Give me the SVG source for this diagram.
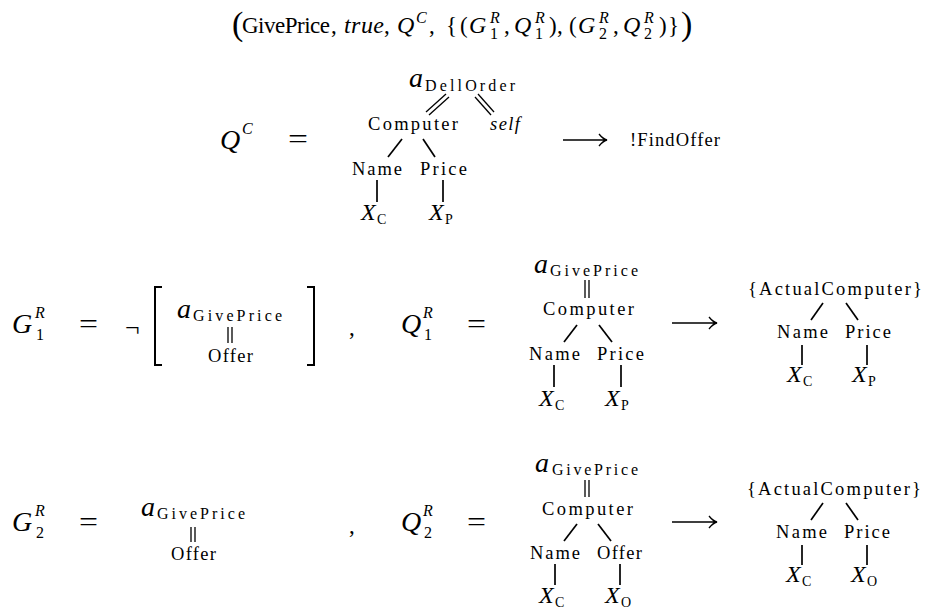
<svg xmlns="http://www.w3.org/2000/svg" width="925" height="609" viewBox="0 0 925 609">
<style>
text{font-family:"Liberation Serif","DejaVu Serif",serif;fill:#000}
.it{font-style:italic}
.m{font-size:28px}
.t{font-size:23px}
.ti{font-size:24px;font-style:italic}
.l{font-size:18.5px}
.s{font-size:14px}
.sb{font-size:16px}
.sm{font-size:16px}
.big{font-size:34px}
.x{font-size:24px;font-style:italic}
.c line,.c path{stroke:#000;stroke-width:1.7;fill:none}
.c .d{stroke-width:1.3}
.c .ar{stroke-width:1.3}
</style>
<rect width="925" height="609" fill="#fff"/>
<g id="title">
<text x="232" y="35" class="big">(</text>
<text x="242" y="33" class="t" textLength="88" lengthAdjust="spacing">GivePrice</text>
<text x="331" y="33" class="t">,</text>
<text x="344" y="33" class="ti" textLength="40" lengthAdjust="spacing">true</text>
<text x="384" y="33" class="t">,</text>
<text x="397" y="33" class="ti">Q</text>
<text x="416" y="23" class="sm it">C</text>
<text x="429" y="33" class="t">,</text>
<text x="446" y="33" class="t">{</text>
<text x="460" y="33" class="t">(</text>
<text x="469" y="33" class="ti">G</text>
<text x="490" y="23" class="sm it">R</text>
<text x="490" y="39" class="sm">1</text>
<text x="504" y="33" class="t">,</text>
<text x="514" y="33" class="ti">Q</text>
<text x="535" y="23" class="sm it">R</text>
<text x="535" y="39" class="sm">1</text>
<text x="549" y="33" class="t">)</text>
<text x="557" y="33" class="t">,</text>
<text x="569" y="33" class="t">(</text>
<text x="578" y="33" class="ti">G</text>
<text x="599" y="23" class="sm it">R</text>
<text x="599" y="39" class="sm">2</text>
<text x="613" y="33" class="t">,</text>
<text x="623" y="33" class="ti">Q</text>
<text x="644" y="23" class="sm it">R</text>
<text x="644" y="39" class="sm">2</text>
<text x="659" y="33" class="t">)</text>
<text x="668" y="33" class="t">}</text>
<text x="681" y="35" class="big">)</text>
</g>

<g id="row1">
<g id="qc-label"><text x="220" y="149" class="m it">Q</text><text x="242" y="134" class="sm it">C</text></g>
<g id="qc-eq"><text x="288" y="148" class="m" textLength="20" lengthAdjust="spacingAndGlyphs">=</text></g>
<g id="r1-a"><text x="409" y="87" class="m it">a</text><text x="425" y="91" class="sb" textLength="90" lengthAdjust="spacing">DellOrder</text></g>
<g id="r1-computer"><text x="368" y="130" class="l" textLength="90" lengthAdjust="spacing">Computer</text></g>
<g id="r1-self"><text x="490" y="130" class="l it" textLength="30" lengthAdjust="spacing">self</text></g>
<g id="r1-name"><text x="352" y="175" class="l" textLength="50" lengthAdjust="spacing">Name</text></g>
<g id="r1-price"><text x="420" y="175" class="l" textLength="47" lengthAdjust="spacing">Price</text></g>
<g id="r1-xc"><text x="361" y="220" class="x">X</text><text x="377" y="224" class="s">C</text></g>
<g id="r1-xp"><text x="429" y="220" class="x">X</text><text x="445" y="224" class="s">P</text></g>
<g id="r1-findoffer"><text x="630" y="146" class="l" textLength="90" lengthAdjust="spacing">!FindOffer</text></g>
</g>

<g id="row2">
<g id="g1-label"><text x="12" y="333" class="m it">G</text><text x="35" y="318" class="sm it">R</text><text x="36" y="340" class="sm">1</text></g>
<g id="g1-eq"><text x="79" y="333" class="m" textLength="19" lengthAdjust="spacingAndGlyphs">=</text></g>
<g id="g1-not"><text x="125" y="336" style="font-size:26px">¬</text></g>
<g id="g1-a"><text x="177" y="318" class="m it">a</text><text x="193" y="321" class="sb" textLength="89" lengthAdjust="spacing">GivePrice</text></g>
<g id="g1-offer"><text x="208" y="362" class="l" textLength="45" lengthAdjust="spacing">Offer</text></g>
<g id="comma1"><text x="349" y="335" class="t">,</text></g>
<g id="q1-label"><text x="401" y="333" class="m it">Q</text><text x="423" y="318" class="sm it">R</text><text x="424" y="340" class="sm">1</text></g>
<g id="q1-eq"><text x="467" y="333" class="m" textLength="19" lengthAdjust="spacingAndGlyphs">=</text></g>
<g id="q1-a"><text x="534" y="273" class="m it">a</text><text x="550" y="276" class="sb" textLength="88" lengthAdjust="spacing">GivePrice</text></g>
<g id="q1-computer"><text x="543" y="315" class="l" textLength="91" lengthAdjust="spacing">Computer</text></g>
<g id="q1-name"><text x="529" y="360" class="l" textLength="51" lengthAdjust="spacing">Name</text></g>
<g id="q1-price"><text x="597" y="360" class="l" textLength="47" lengthAdjust="spacing">Price</text></g>
<g id="q1-xc"><text x="539" y="406" class="x">X</text><text x="555" y="410" class="s">C</text></g>
<g id="q1-xp"><text x="605" y="406" class="x">X</text><text x="621" y="410" class="s">P</text></g>
<g id="q1-ac"><text x="748" y="295" class="l" textLength="174" lengthAdjust="spacing">{ActualComputer}</text></g>
<g id="q1r-name"><text x="777" y="338" class="l" textLength="51" lengthAdjust="spacing">Name</text></g>
<g id="q1r-price"><text x="845" y="338" class="l" textLength="46" lengthAdjust="spacing">Price</text></g>
<g id="q1r-xc"><text x="787" y="382" class="x">X</text><text x="803" y="386" class="s">C</text></g>
<g id="q1r-xp"><text x="852" y="382" class="x">X</text><text x="868" y="386" class="s">P</text></g>
</g>

<g id="row3">
<g id="g2-label"><text x="12" y="531" class="m it">G</text><text x="35" y="516" class="sm it">R</text><text x="36" y="538" class="sm">2</text></g>
<g id="g2-eq"><text x="79" y="531" class="m" textLength="19" lengthAdjust="spacingAndGlyphs">=</text></g>
<g id="g2-a"><text x="141" y="516" class="m it">a</text><text x="157" y="519" class="sb" textLength="88" lengthAdjust="spacing">GivePrice</text></g>
<g id="g2-offer"><text x="171" y="560" class="l" textLength="45" lengthAdjust="spacing">Offer</text></g>
<g id="comma2"><text x="349" y="533" class="t">,</text></g>
<g id="q2-label"><text x="401" y="531" class="m it">Q</text><text x="423" y="516" class="sm it">R</text><text x="424" y="538" class="sm">2</text></g>
<g id="q2-eq"><text x="467" y="531" class="m" textLength="19" lengthAdjust="spacingAndGlyphs">=</text></g>
<g id="q2-a"><text x="535" y="472" class="m it">a</text><text x="552" y="475" class="sb" textLength="86" lengthAdjust="spacing">GivePrice</text></g>
<g id="q2-computer"><text x="542" y="515" class="l" textLength="91" lengthAdjust="spacing">Computer</text></g>
<g id="q2-name"><text x="530" y="559" class="l" textLength="50" lengthAdjust="spacing">Name</text></g>
<g id="q2-offer"><text x="597" y="559" class="l" textLength="45" lengthAdjust="spacing">Offer</text></g>
<g id="q2-xc"><text x="539" y="603" class="x">X</text><text x="555" y="607" class="s">C</text></g>
<g id="q2-xo"><text x="605" y="603" class="x">X</text><text x="621" y="607" class="s">O</text></g>
<g id="q2-ac"><text x="747" y="495" class="l" textLength="174" lengthAdjust="spacing">{ActualComputer}</text></g>
<g id="q2r-name"><text x="776" y="538" class="l" textLength="51" lengthAdjust="spacing">Name</text></g>
<g id="q2r-price"><text x="844" y="538" class="l" textLength="46" lengthAdjust="spacing">Price</text></g>
<g id="q2r-xc"><text x="786" y="582" class="x">X</text><text x="802" y="586" class="s">C</text></g>
<g id="q2r-xo"><text x="851" y="582" class="x">X</text><text x="867" y="586" class="s">O</text></g>
</g>

<g id="connectors" class="c">
<line class="d" x1="446" y1="94" x2="426" y2="112"/><line class="d" x1="449" y1="97" x2="429" y2="115"/>
<line class="d" x1="478" y1="94" x2="494" y2="112"/><line class="d" x1="475" y1="97" x2="491" y2="115"/>
<line x1="402" y1="139" x2="388" y2="157"/><line x1="423" y1="139" x2="435" y2="157"/>
<line x1="377" y1="180" x2="377" y2="202"/><line x1="443" y1="180" x2="443" y2="202"/>
<path class="ar" d="M563,140 H606 M599,134 Q603,139 607,140 Q603,141 599,146"/>
<path d="M162,287 H155 V365 H162 M307,287 H314 V365 H307" style="stroke-width:2"/>
<line class="d" x1="228" y1="327" x2="228" y2="343"/><line class="d" x1="232" y1="327" x2="232" y2="343"/>
<line class="d" x1="585" y1="280" x2="585" y2="298"/><line class="d" x1="589" y1="280" x2="589" y2="298"/>
<line x1="577" y1="325" x2="564" y2="342"/><line x1="599" y1="325" x2="612" y2="342"/>
<line x1="554" y1="365" x2="554" y2="387"/><line x1="621" y1="365" x2="621" y2="387"/>
<path class="ar" d="M672,323 H716 M709,317 Q713,322 717,323 Q713,324 709,329"/>
<line x1="823" y1="303" x2="811" y2="320"/><line x1="846" y1="303" x2="858" y2="320"/>
<line x1="802" y1="345" x2="802" y2="365"/><line x1="867" y1="345" x2="867" y2="365"/>
<line class="d" x1="191" y1="527" x2="191" y2="542"/><line class="d" x1="195" y1="527" x2="195" y2="542"/>
<line class="d" x1="585" y1="480" x2="585" y2="497"/><line class="d" x1="589" y1="480" x2="589" y2="497"/>
<line x1="577" y1="524" x2="564" y2="541"/><line x1="598" y1="524" x2="611" y2="541"/>
<line x1="555" y1="564" x2="555" y2="585"/><line x1="620" y1="564" x2="620" y2="585"/>
<path class="ar" d="M672,522 H716 M709,516 Q713,521 717,522 Q713,523 709,528"/>
<line x1="823" y1="503" x2="811" y2="520"/><line x1="846" y1="503" x2="858" y2="520"/>
<line x1="802" y1="545" x2="802" y2="565"/><line x1="867" y1="545" x2="867" y2="565"/>
</g>
</svg>
